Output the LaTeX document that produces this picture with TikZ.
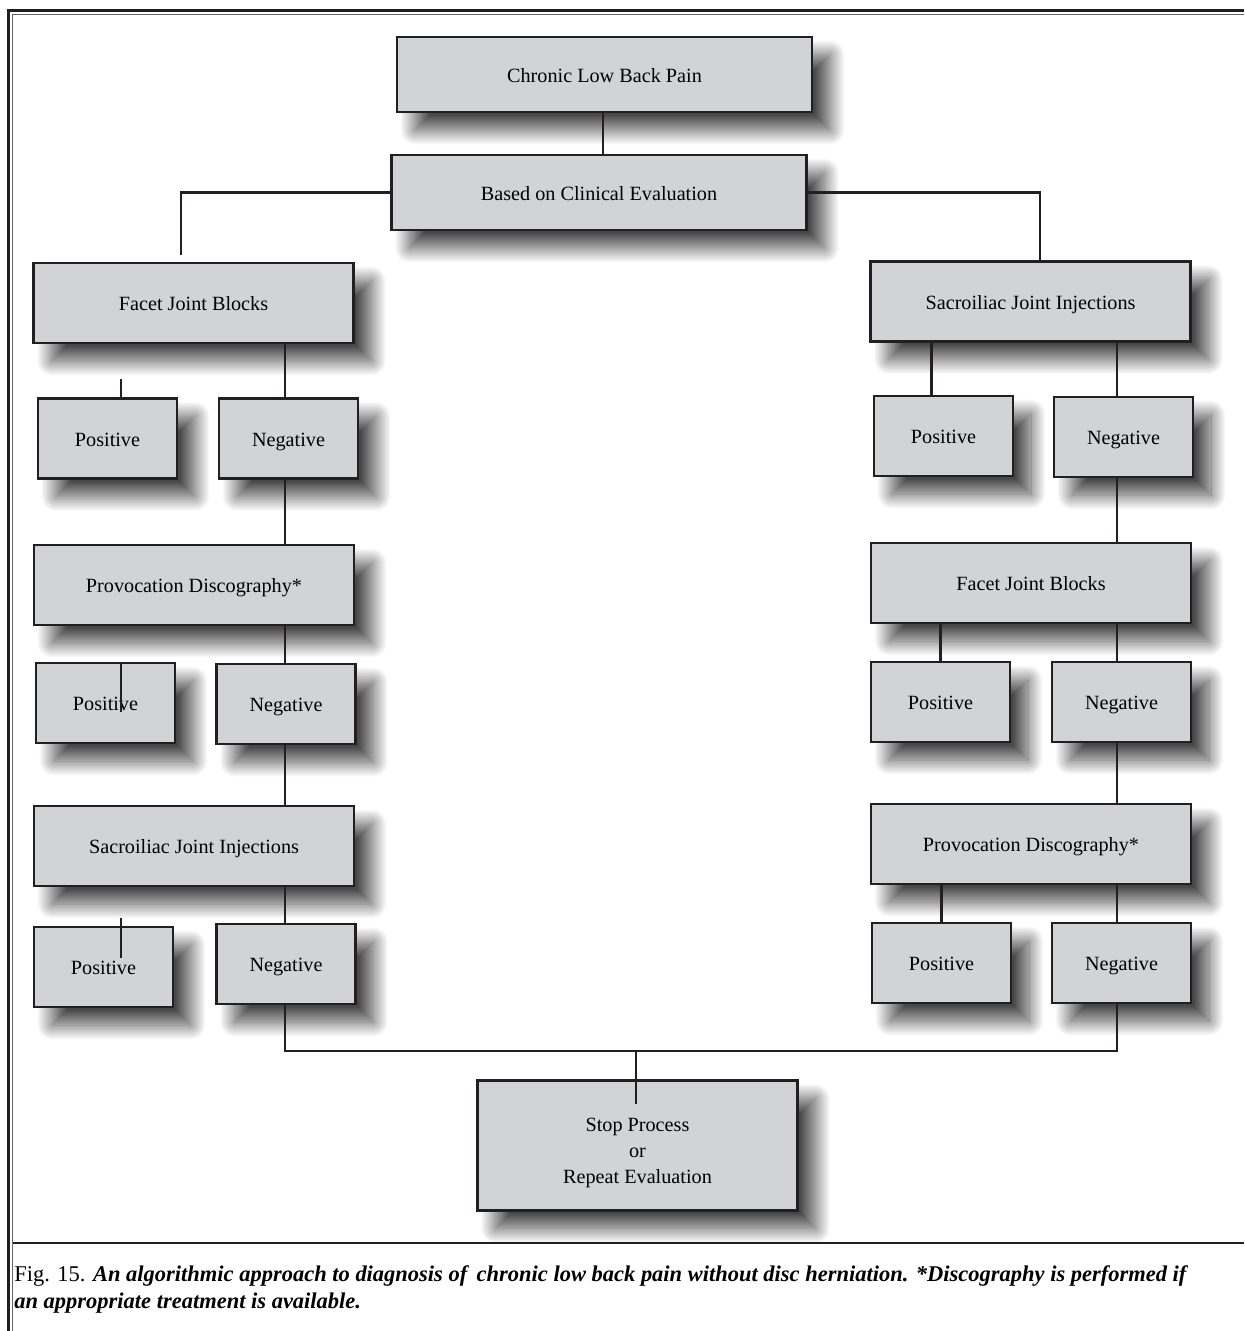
\documentclass[tikz,border=0pt]{standalone}
\usepackage{fontspec}
\setmainfont{Liberation Serif}
\usetikzlibrary{shadows.blur,calc}
\definecolor{boxgray}{RGB}{209,211,212}
\definecolor{inkgray}{RGB}{35,31,32}
\begin{document}
\begin{tikzpicture}[x=0.02cm, y=-0.02cm,
	box/.style={draw=inkgray, line width=1.6pt, fill=boxgray, inner sep=0pt, align=center,
		font=\fontsize{11.5}{15}\selectfont,
		blur shadow={shadow xshift=0.36cm, shadow yshift=-0.36cm, shadow blur radius=0.3cm, shadow blur steps=40, shadow opacity=72}},
	onebox/.style={box, text height=10pt, text depth=1pt},
	headbox/.style={onebox, minimum width=8.3cm, minimum height=1.5cm},
	widebox/.style={onebox, minimum width=6.4cm, minimum height=1.6cm},
	smallbox/.style={onebox, minimum width=2.78cm, minimum height=1.6cm},
	link/.style={line width=1.3pt, inkgray}]
	\useasboundingbox (0,0) rectangle (1244,1331);
	\draw[line width=1.8pt, inkgray] (8.5,1331) -- (8.5,10.5) -- (1244,10.5);
	\draw[line width=0.6pt, black!60] (12.5,1331) -- (12.5,14.5) -- (1244,14.5);
	\draw[line width=1.4pt, inkgray] (12.5,1243) -- (1244,1243);
	\node[headbox] (chronic) at (604.5,74.5) {Chronic Low Back Pain};
	\node[headbox] (based) at (599,192.5) {Based on Clinical Evaluation};
	\node[widebox] (facetL) at (193.5,303) {Facet Joint Blocks};
	\node[smallbox] (posL1) at (107.5,438.5) {Positive};
	\node[smallbox] (negL1) at (288.5,438.5) {Negative};
	\node[widebox] (provL) at (194,585) {Provocation Discography*};
	\node[smallbox] (posL2) at (105.5,703) {Positive};
	\node[smallbox] (negL2) at (286,704) {Negative};
	\node[widebox] (sacroL) at (194,846) {Sacroiliac Joint Injections};
	\node[smallbox] (posL3) at (103.5,967) {Positive};
	\node[smallbox] (negL3) at (286,964) {Negative};
	\node[widebox] (sacroR) at (1030.5,301.5) {Sacroiliac Joint Injections};
	\node[smallbox] (posR1) at (943.5,436) {Positive};
	\node[smallbox] (negR1) at (1123.5,437) {Negative};
	\node[widebox] (facetR) at (1031,583) {Facet Joint Blocks};
	\node[smallbox] (posR2) at (940.5,702) {Positive};
	\node[smallbox] (negR2) at (1121.5,702) {Negative};
	\node[widebox] (provR) at (1031,844) {Provocation Discography*};
	\node[smallbox] (posR3) at (941.5,963) {Positive};
	\node[smallbox] (negR3) at (1121.5,963) {Negative};
	\node[box, minimum width=6.4cm, minimum height=2.6cm] (stop) at (637.5,1145.5) {\rule{0pt}{16pt}Stop Process\\or\\Repeat Evaluation};
	\coordinate (spineC) at (603,0);
	\coordinate (spineL) at (285,0);
	\coordinate (spineR) at (1117,0);
	\coordinate (stubL) at (181,255);
	\coordinate (jR) at (1040,192.5);
	\coordinate (tipL1) at (121,379);
	\coordinate (tipL2) at (121,712);
	\coordinate (tipL3a) at (121,918);
	\coordinate (tipL3b) at (121,958);
	\coordinate (bus) at (636,1051);
	\coordinate (stopIn) at (636,1104);
	\draw[link] (chronic.south -| spineC) -- (based.north -| spineC);
	\draw[link] (based.west) -| (stubL);
	\draw[link] (based.east) -- (jR) -- (jR |- sacroR.north);
	\draw[link] (tipL1) -- (tipL1 |- posL1.north);
	\draw[link] (facetL.south -| spineL) -- (negL1.north -| spineL);
	\draw[link] (negL1.south -| spineL) -- (provL.north -| spineL);
	\draw[link] (posL2.north -| tipL2) -- (tipL2);
	\draw[link] (provL.south -| spineL) -- (negL2.north -| spineL);
	\draw[link] (negL2.south -| spineL) -- (sacroL.north -| spineL);
	\draw[link] (tipL3a) -- (tipL3b);
	\draw[link] (sacroL.south -| spineL) -- (negL3.north -| spineL);
	\draw[link] ($(posR1.north)+(-12,0)$) -- ($(posR1.north |- sacroR.south)+(-12,0)$);
	\draw[link] (sacroR.south -| spineR) -- (negR1.north -| spineR);
	\draw[link] (negR1.south -| spineR) -- (facetR.north -| spineR);
	\draw[link] (facetR.south -| posR2) -- (posR2.north);
	\draw[link] (facetR.south -| spineR) -- (negR2.north -| spineR);
	\draw[link] (negR2.south -| spineR) -- (provR.north -| spineR);
	\draw[link] (provR.south -| posR3) -- (posR3.north);
	\draw[link] (provR.south -| spineR) -- (negR3.north -| spineR);
	\draw[link] (negL3.south -| spineL) |- (bus) -| (negR3.south -| spineR);
	\draw[link] (bus) -- (stopIn);
	\node[anchor=north west, align=left, inner sep=0pt, font=\fontsize{12.8}{15.4}\selectfont] (caption) at (14,1265)
		{Fig. 15. \textbf{\textit{An algorithmic approach to diagnosis of\, chronic low back pain without disc herniation. *Discography is performed if}}\\
		\textbf{\textit{an appropriate treatment is available.}}};
\end{tikzpicture}
\end{document}
